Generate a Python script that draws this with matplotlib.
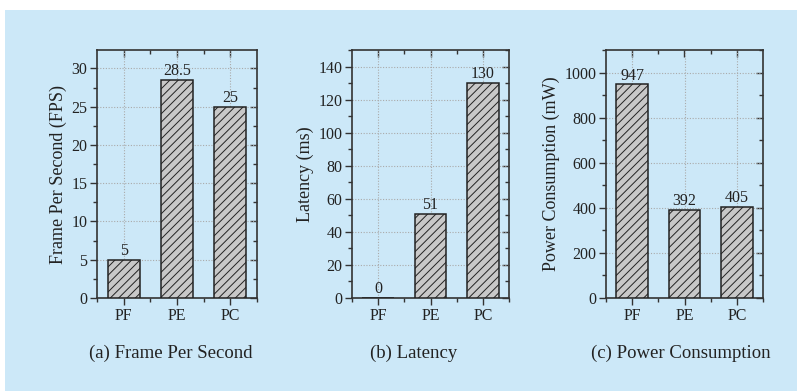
import matplotlib
matplotlib.use("Agg")
import matplotlib.pyplot as plt
from matplotlib.patches import Rectangle
from matplotlib.ticker import MultipleLocator, FixedLocator

categories = ["PF", "PE", "PC"]
fps_values = [5, 28.5, 25]
latency_values = [0, 51, 130]
power_values = [947, 392, 405]
fps_labels = ["5", "28.5", "25"]
latency_labels = ["0", "51", "130"]
power_labels = ["947", "392", "405"]

ylabels = ["Frame Per Second (FPS)", "Latency (ms)", "Power Consumption (mW)"]
captions = ["(a) Frame Per Second", "(b) Latency", "(c) Power Consumption"]

plt.rcParams['font.family'] = ['Liberation Serif', 'DejaVu Serif']
plt.rcParams['hatch.linewidth'] = 0.7
plt.rcParams['hatch.color'] = '#222222'

W, H = 797, 391
fig = plt.figure(figsize=(W / 100, H / 100), dpi=100)
fig.patch.set_facecolor('white')
bg = '#cce8f8'
fig.patches.append(Rectangle((5 / W, 0), 1 - 5 / W, (H - 10) / H,
                             transform=fig.transFigure, facecolor=bg,
                             edgecolor='none', zorder=-10))

panels = [
    (97, 257, fps_values, fps_labels, 32.4, 5, 2.5, captions[0], 171),
    (352, 509, latency_values, latency_labels, 150, 20, 10, captions[1], 414),
    (606, 763, power_values, power_labels, 1100, 200, 100, captions[2], 681),
]
top_px, bot_px = 50, 298
spine_c = '#333333'

for i, (x0, x1, vals, labs, ymax, major, minor, cap, capx) in enumerate(panels):
    ax = fig.add_axes([x0 / W, 1 - bot_px / H, (x1 - x0) / W, (bot_px - top_px) / H])
    ax.set_facecolor('none')
    xs = list(range(len(categories)))
    ax.bar(xs, vals, width=0.6, color='#c8c8c8', edgecolor='#222222',
           linewidth=1.1, hatch='////', zorder=3)
    for x, v, l in zip(xs, vals, labs):
        ax.text(x, v + ymax * 0.004, l, ha='center', va='bottom', fontsize=11.5,
                color='#222222', zorder=4)
    ax.set_xlim(-0.5, 2.5)
    ax.set_ylim(0, ymax)
    ax.set_xticks(xs)
    ax.set_xticklabels(categories)
    ax.xaxis.set_minor_locator(FixedLocator([-0.5, 0.5, 1.5, 2.5]))
    ax.yaxis.set_major_locator(MultipleLocator(major))
    ax.yaxis.set_minor_locator(MultipleLocator(minor))
    ax.grid(True, which='major', linestyle=(0, (1, 1.5)), color='#aaaaaa',
            linewidth=0.8, zorder=0)
    ax.set_axisbelow(True)
    for s in ax.spines.values():
        s.set_color(spine_c)
        s.set_linewidth(1.2)
    ax.tick_params(axis='both', which='major', direction='out', length=5,
                   width=1.0, color=spine_c, labelsize=11.5, pad=2,
                   labelcolor='#222222')
    ax.tick_params(axis='both', which='minor', direction='out', length=3,
                   width=1.0, color=spine_c)
    ax.set_ylabel(ylabels[i], fontsize=13, color='#222222', labelpad=3)
    # inward ticks on top and right
    sx = ax.secondary_xaxis('top')
    sx.set_xticks(xs)
    sx.set_xticklabels([])
    sx.xaxis.set_minor_locator(FixedLocator([0.5, 1.5]))
    sx.tick_params(which='major', direction='in', length=5, width=1.0, color=spine_c)
    sx.tick_params(which='minor', direction='in', length=3, width=1.0, color=spine_c)
    sx.spines['top'].set_visible(False)
    sy = ax.secondary_yaxis('right')
    sy.yaxis.set_major_locator(MultipleLocator(major))
    sy.yaxis.set_minor_locator(MultipleLocator(minor))
    sy.set_yticklabels([])
    sy.tick_params(which='major', direction='in', length=5, width=1.0, color=spine_c)
    sy.tick_params(which='minor', direction='in', length=3, width=1.0, color=spine_c)
    sy.spines['right'].set_visible(False)
    fig.text(capx / W, 1 - 353 / H, cap, ha='center', va='center',
             fontsize=13.5, color='#222222')

fig.savefig('out.png', dpi=100, facecolor=fig.get_facecolor())
